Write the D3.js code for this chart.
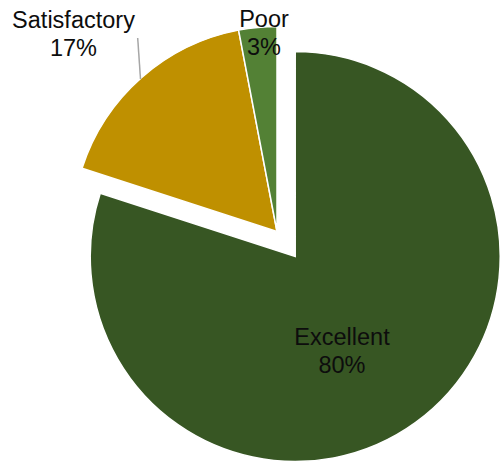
<!DOCTYPE html>
<html>
<head>
<meta charset="utf-8">
<script src="https://cdn.jsdelivr.net/npm/d3@7"></script>
<style>
  html, body { margin: 0; padding: 0; background: #fff; }
  svg { display: block; }
  text { font-family: "Liberation Sans", Arial, sans-serif; }
</style>
</head>
<body>
<svg id="chart" width="500" height="466"></svg>
<script>
const categories = ["Excellent", "Satisfactory", "Poor"];
const values = [80, 17, 3];
const percentLabels = ["80%", "17%", "3%"];

const colors = ["#375623", "#BF9000", "#538135"];
const explode = [31, 0, 0];
const labelPos = [[342, 345], [73.5, 28], [264, 27]];

const W = 500, H = 466;
const cx = 277, cy = 231.5, R = 205;

const svg = d3.select("#chart");
const g = svg.append("g").attr("transform", `translate(${cx},${cy})`);

const data = categories.map((c, i) => ({ name: c, value: values[i], pct: percentLabels[i], i }));
const pie = d3.pie().value(d => d.value).sort(null).startAngle(0).endAngle(2 * Math.PI);
const arc = d3.arc().innerRadius(0).outerRadius(R);
const arcs = pie(data);

g.selectAll("path.slice")
  .data(arcs)
  .join("path")
  .attr("class", "slice")
  .attr("d", arc)
  .attr("fill", d => colors[d.data.i])
  .attr("stroke", "#fff")
  .attr("stroke-width", 1.5)
  .attr("stroke-linejoin", "miter")
  .attr("transform", d => {
    const a = (d.startAngle + d.endAngle) / 2;
    const e = explode[d.data.i];
    return `translate(${e * Math.sin(a)},${-e * Math.cos(a)})`;
  });

// leader line for Satisfactory
svg.append("line")
  .attr("x1", 137.7).attr("y1", 38)
  .attr("x2", 140.5).attr("y2", 79)
  .attr("stroke", "#a6a6a6").attr("stroke-width", 1.5);

const labels = svg.selectAll("text.lbl")
  .data(data)
  .join("text")
  .attr("class", "lbl")
  .attr("text-anchor", "middle")
  .attr("font-size", "23.5px")
  .attr("fill", "#0d0d0d");

labels.append("tspan")
  .attr("x", d => labelPos[d.i][0])
  .attr("y", d => labelPos[d.i][1])
  .text(d => d.name);
labels.append("tspan")
  .attr("x", d => labelPos[d.i][0])
  .attr("dy", 27.5)
  .text(d => d.pct);
</script>
</body>
</html>
